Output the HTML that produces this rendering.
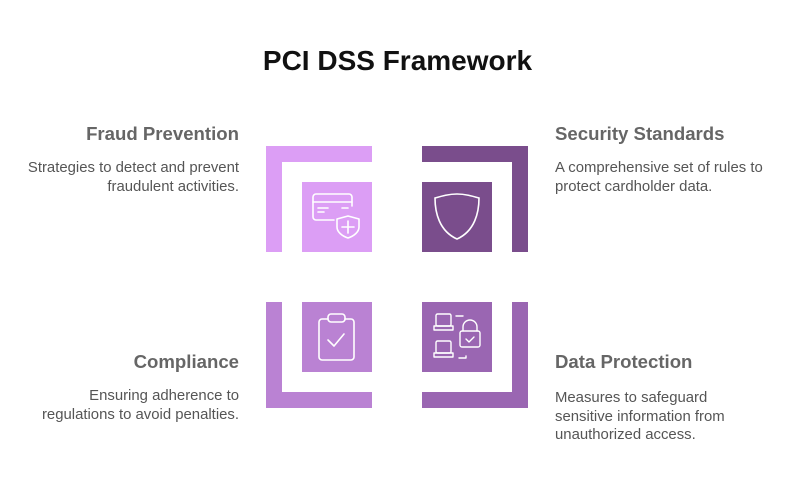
<!DOCTYPE html>
<html><head><meta charset="utf-8"><style>
body{margin:0;width:806px;height:494px;background:#fff;position:relative;font-family:"Liberation Sans",sans-serif;overflow:hidden}
.t{position:absolute;white-space:nowrap}
.h{font-size:18.6px;font-weight:bold;color:#666;line-height:22px}
.b{font-size:14.9px;color:#555;line-height:18.5px}
.r{text-align:right}
</style></head><body>
<div class="t" style="left:0;width:795px;top:44px;text-align:center;font-size:28px;font-weight:bold;line-height:34px;color:#111">PCI DSS Framework</div>

<div class="t h r" style="right:567px;top:123px">Fraud Prevention</div>
<div class="t b r" style="right:567px;top:159px">Strategies to detect and prevent<br>fraudulent activities.</div>

<div class="t h" style="left:555px;top:123px">Security Standards</div>
<div class="t b" style="left:555px;top:159px">A comprehensive set of rules to<br>protect cardholder data.</div>

<div class="t h r" style="right:567px;top:351px">Compliance</div>
<div class="t b r" style="right:567px;top:387px">Ensuring adherence to<br>regulations to avoid penalties.</div>

<div class="t h" style="left:555px;top:351px">Data Protection</div>
<div class="t b" style="left:555px;top:389px">Measures to safeguard<br>sensitive information from<br>unauthorized access.</div>

<svg width="806" height="494" style="position:absolute;left:0;top:0" fill="none">
<path d="M266 146H372V162H282V252H266Z" fill="#DC9EF5"/>
<rect x="302" y="182" width="70" height="70" fill="#DC9EF5"/>
<g stroke="#fff" stroke-width="1.6" stroke-linecap="round" stroke-linejoin="round">
<path d="M334 220H316a3 3 0 0 1-3-3V197a3 3 0 0 1 3-3h33a3 3 0 0 1 3 3v9"/>
<path d="M313 202H352M318 208H328M342 208H348M318 212H324"/>
<path d="M348 216l-11 3v8c0 5 5 9 11 11c6-2 11-6 11-11v-8z"/>
<path d="M348 221v12M342 227h12"/>
</g>
<path d="M422 146H528V252H512V162H422Z" fill="#7A4D8C"/>
<rect x="422" y="182" width="70" height="70" fill="#7A4D8C"/>
<path d="M457 194c-8 0-15 2-22 4c0 14 4 33 22 41c18-8 22-27 22-41c-7-2-14-4-22-4z" stroke="#fff" stroke-width="1.6"/>
<path d="M266 302H282V392H372V408H266Z" fill="#BA82D3"/>
<rect x="302" y="302" width="70" height="70" fill="#BA82D3"/>
<g stroke="#fff" stroke-width="1.6" stroke-linecap="round" stroke-linejoin="round">
<path d="M328 319h-6a3 3 0 0 0-3 3v35a3 3 0 0 0 3 3h29a3 3 0 0 0 3-3V322a3 3 0 0 0-3-3h-6"/>
<rect x="328" y="314" width="17" height="8" rx="3"/>
<path d="M328 340l6 6l10-12"/>
</g>
<path d="M512 302H528V408H422V392H512Z" fill="#9A66B2"/>
<rect x="422" y="302" width="70" height="70" fill="#9A66B2"/>
<g stroke="#fff" stroke-width="1.4" stroke-linecap="round" stroke-linejoin="round">
<rect x="436" y="314" width="15" height="12" rx="1.5"/><path d="M434 326h19v4h-19z"/>
<rect x="436" y="341" width="15" height="12" rx="1.5"/><path d="M434 353h19v4h-19z"/>
<path d="M456 316h7M459 358h7v-2"/>
<rect x="460" y="331" width="20" height="16" rx="2"/>
<path d="M463 331v-4a7 7 0 0 1 14 0v4"/>
<path d="M466 339l3 3l5-5"/>
</g>
</svg>
</body></html>
